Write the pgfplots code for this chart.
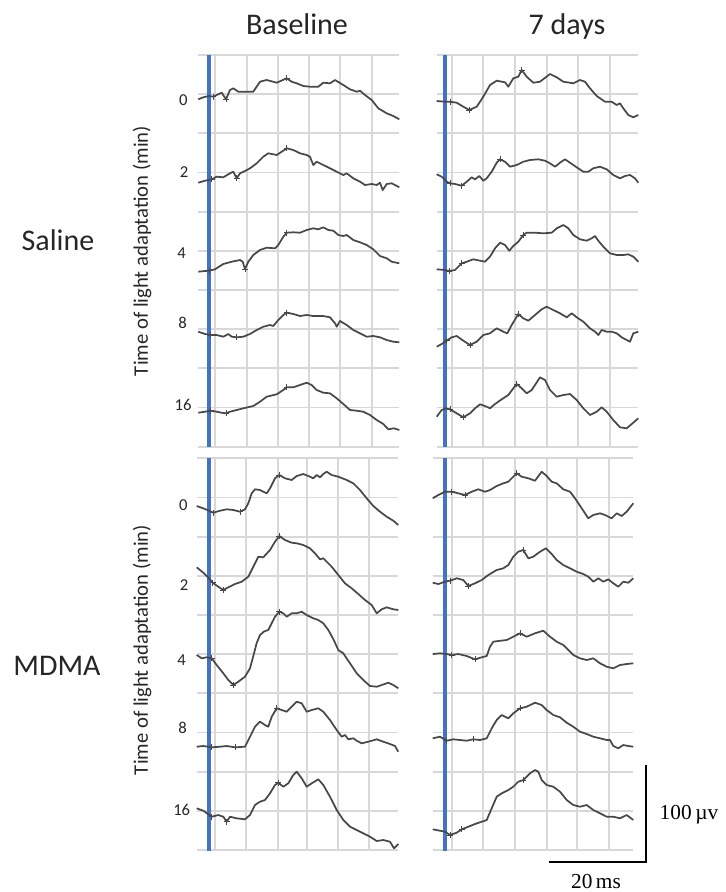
\documentclass[border=0pt]{standalone}
\usepackage{fontspec}
\setmainfont{Carlito}
\newfontfamily\scalefont{Liberation Serif}
\usepackage{pgfplots}
\pgfplotsset{compat=1.18}
\definecolor{gridc}{RGB}{216,216,216}
\definecolor{stim}{RGB}{68,114,196}
\definecolor{trc}{RGB}{72,72,72}
\pgfplotsset{
 panel/.style={scale only axis, y dir=reverse, anchor=south west,
   axis line style={draw=none}, tick style={draw=none},
   xtick=\empty, yticklabels={}, ymajorgrids, unbounded coords=jump,
   major grid style={draw=gridc, line width=1.4pt}, clip=false},
 gridv/.style={gridc, line width=1.5pt, forget plot},
 trace/.style={trc, line width=1.3pt, line join=round},
 stimline/.style={stim, line width=2.3pt},
 mk/.style={only marks, mark=+, mark size=2.2pt, mark options={trc, line width=0.6pt}},
}
\begin{document}
\begin{tikzpicture}
\path[use as bounding box] (0,0) rectangle (543.75pt,-669pt);

% ---------------- Saline, Baseline
\begin{axis}[panel, at={(148.725pt,-335.025pt)}, width=150.75pt, height=293.775pt,
  xmin=198.3, xmax=399.3, ymin=55, ymax=446.7,
  ytick={55,94.17,133.34,172.51,211.68,250.85,290.02,329.19,368.36,407.53,446.7}]
\addplot[gridv] coordinates {(215,55) (215,446.7) (215,nan) (246.7,55) (246.7,446.7) (246.7,nan) (278.3,55) (278.3,446.7) (278.3,nan) (309.3,55) (309.3,446.7) (309.3,nan) (340,55) (340,446.7) (340,nan) (371.7,55) (371.7,446.7)};
\addplot[stimline] coordinates {(209,55) (209,446.7)};
% 0 min
\addplot[trace] coordinates {(198.3,99.3) (203.3,97.3) (209,96) (213.3,96.7) (216.7,95) (221.7,92.7) (226,99.3) (230,90) (233.3,88.3) (238.3,91.7) (243.3,91.7) (253.3,91.7) (260,81.7) (266.7,80) (276.7,82.7) (286.7,78.3) (291.7,81.7) (296.7,83.3) (303.3,86) (310,86.7) (318.3,86.7) (323.3,82.7) (330,83.3) (335,80) (343.3,85) (350,89.3) (356.7,91.7) (360,90.7) (365,95) (371.7,100) (378.3,108.3) (386.7,113.3) (393.3,116) (399.3,119.3)};
\addplot[mk] coordinates {(213.3,96.7) (226,99.3) (286.7,78.3)};
% 2 min
\addplot[trace] coordinates {(198.3,182.7) (205,180.7) (211.7,179.3) (216.7,176.7) (223.3,177.3) (230,173.3) (233.3,171.7) (236.7,178.3) (240,173.3) (245,171) (250,168.3) (256.7,163.3) (263.3,156.7) (268.3,153.3) (276.7,155) (281.7,151.7) (286.7,148.3) (293.3,150) (300,153.3) (306.7,155) (310,156.7) (313.3,165) (316.7,161.7) (323.3,165) (330,168.3) (336.7,171.7) (343.3,175) (346.7,173.3) (353.3,178.3) (360,181.7) (365,185) (371.7,184) (376.7,185) (380,182.7) (382.7,190) (386.7,184) (391.7,183.3) (399.3,187.3)};
\addplot[mk] coordinates {(211.7,179.3) (236.7,178.3) (286.7,148.3)};
% 4 min
\addplot[trace] coordinates {(198.3,271.7) (205,271) (209,270.7) (215,269.3) (223.3,264) (231.7,261.7) (240,260) (242.7,261.7) (245,269) (248.3,261.7) (253.3,255) (260,250) (266.7,247.7) (275,248.3) (278.3,245) (283.3,236.7) (286.7,232.7) (293.3,232.3) (300,232.7) (306.7,230) (313.3,228.3) (318.3,229.3) (323.3,227.3) (328.3,230) (333.3,230.7) (338.3,235) (343.3,236) (346.7,235) (353.3,240) (360,242.3) (366.7,245) (373.3,249.3) (380,256) (386.7,258.3) (391.7,261.7) (399.3,263.3)};
\addplot[mk] coordinates {(209,270.7) (245,269) (286.7,232.7)};
% 8 min
\addplot[trace] coordinates {(198.3,331.7) (205,334) (210.7,335) (216.7,335) (223.3,336.7) (228.3,334) (231.7,336.7) (236.7,337.3) (243.3,336.7) (250,334) (256.7,330) (263.3,326.7) (270,325) (273.3,326) (278.3,320) (283.3,315) (286.7,312.7) (293.3,314) (300,316) (306.7,315) (313.3,316) (323.3,316) (330,317.3) (335,323.3) (336.7,326.7) (340,321) (346.7,325) (353.3,330) (360,333.3) (366.7,336.7) (373.3,336) (380,337.3) (386.7,340) (393.3,341.7) (399.3,342.3)};
\addplot[mk] coordinates {(210.7,335) (236.7,337.3) (286.7,312.7)};
% 16 min
\addplot[trace] coordinates {(198.3,412.7) (205,411.7) (210.7,410.7) (216.7,411.7) (221.7,412.7) (226,413.3) (230,411.7) (236.7,410) (243.3,408.3) (253.3,406) (260,401.7) (266.7,396.7) (276.7,394.3) (283.3,390) (286.7,387.3) (293.3,387.3) (300,385) (306.7,382.7) (311.7,385) (316.7,390) (323.3,392.7) (330,393.3) (336.7,398.3) (343.3,404) (350,410) (356.7,410.7) (363.3,411.7) (370,415) (376.7,420) (383.3,424) (388.3,429.3) (394,428.3) (399.3,430)};
\addplot[mk] coordinates {(210.7,410.7) (226,413.3) (286.7,387.3)};
\end{axis}

% ---------------- Saline, 7 days
\begin{axis}[panel, at={(327.525pt,-335.025pt)}, width=151.2pt, height=293.775pt,
  xmin=436.7, xmax=638.3, ymin=55, ymax=446.7,
  ytick={55,94.17,133.34,172.51,211.68,250.85,290.02,329.19,368.36,407.53,446.7}]
\addplot[gridv] coordinates {(451.7,55) (451.7,446.7) (451.7,nan) (483.3,55) (483.3,446.7) (483.3,nan) (515,55) (515,446.7) (515,nan) (546.7,55) (546.7,446.7) (546.7,nan) (578.3,55) (578.3,446.7) (578.3,nan) (610,55) (610,446.7)};
\addplot[stimline] coordinates {(445,55) (445,446.7)};
\addplot[trace] coordinates {(436.7,101) (445,101.7) (450,101.7) (456.7,102.7) (463.3,106.7) (469.3,110) (476.7,106.7) (483.3,96.7) (490,85) (496.7,80.7) (505,82.3) (508.3,86.7) (513.3,78.3) (518.3,76.7) (521.7,70) (526.7,76.7) (533.3,82.7) (540,81.7) (550,74) (556.7,77.3) (563.3,81.7) (573.3,83.3) (580,80) (585,81.7) (590,88.3) (596.7,96) (605,101.7) (611.7,101.7) (616.7,105) (620,103.3) (623.3,108.3) (628.3,115) (633.3,117.3) (638.3,115)};
\addplot[mk] coordinates {(450,101.7) (469.3,110) (521.7,70)};
\addplot[trace] coordinates {(436.7,174.3) (441.7,176.7) (446.7,181.7) (450,183.3) (455,184) (461.7,185.7) (466.7,181.7) (471.7,177.3) (475,179.3) (479.3,176) (483.3,180.7) (486.7,178.3) (491.7,171.7) (496.7,162.7) (500,159.3) (505,161.7) (510,166.7) (516.7,165) (523.3,161.7) (530,160) (538.3,159.3) (545,160.7) (550,163.3) (555,166.7) (560,162.7) (565,159.3) (570,162.7) (576.7,167.3) (583.3,171.7) (588.3,171.7) (593.3,168.3) (600,166.7) (606.7,169.3) (613.3,175) (620,178.3) (625,176) (630,175) (635,178.3) (638.3,182.7)};
\addplot[mk] coordinates {(450,183.3) (461.7,185.7) (500,159.3)};
\addplot[trace] coordinates {(436.7,269.3) (445,270) (449.3,271) (455,270) (458.3,266.7) (461.7,263.3) (466.7,261.7) (473.3,259.3) (480,260.7) (485,261.7) (490,256.7) (495,248.3) (500,242.7) (505,245) (509.3,250.7) (513.3,246) (518.3,241.7) (523.3,235) (526.7,232.7) (535,232.7) (543.3,233.3) (551.7,232.7) (556.7,228.3) (563.3,225) (568.3,228.3) (573.3,235) (580,239.3) (586.7,240.7) (591.7,238.3) (595,236) (598.3,240.7) (603.3,246.7) (610,253.3) (616.7,255) (623.3,255) (628.3,254.3) (633.3,256.7) (638.3,261.7)};
\addplot[mk] coordinates {(449.3,271) (461.7,263.3) (523.3,235)};
\addplot[trace] coordinates {(436.7,346.7) (441.7,344) (446.7,340.7) (451.7,337.3) (456.7,336) (463.3,340.7) (470,345) (476.7,341.7) (483.3,335) (490,333.3) (496.7,328.3) (503.3,331.7) (507.3,333.3) (511.7,325) (518.3,314) (523.3,318.3) (528.3,320.7) (535,315) (541.7,309.3) (546.7,306.7) (553.3,310) (560,313.3) (566.7,317.3) (571.7,313.3) (576.7,317.3) (583.3,321.7) (590,328.3) (595,331.7) (598.3,335) (601.7,330) (606.7,331.7) (611.7,331.7) (616.7,333.3) (621.7,337.3) (626.7,340) (630,341.7) (633.3,333.3) (638.3,331.7)};
\addplot[mk] coordinates {(446.7,340.7) (470,345) (518.3,314)};
\addplot[trace] coordinates {(436.7,416.7) (441.7,410) (446,408.3) (450,409.3) (456.7,413.3) (463.3,417.3) (470,413.3) (475,408.3) (480,404.3) (486.7,406.7) (490,408.3) (495,404) (501.7,399.3) (508.3,395) (513.3,388.3) (516.7,384) (521.7,388.3) (526.7,393.3) (531.7,390) (535,385) (540,377.3) (545,380) (550,390) (556.7,396.7) (563.3,395) (570,394) (576.7,400) (583.3,408.3) (590,415) (596.7,411.7) (601.7,407.3) (606.7,411.7) (613.3,420) (620,427.3) (626.7,428.3) (631.7,424) (638.3,418.3)};
\addplot[mk] coordinates {(450,409.3) (463.3,417.3) (516.7,384)};
\end{axis}

% ---------------- MDMA, Baseline
\begin{axis}[panel, at={(147.525pt,-637.5pt)}, width=151.2pt, height=293.775pt,
  xmin=196.7, xmax=398.3, ymin=458.3, ymax=850,
  ytick={458.3,497.47,536.64,575.81,614.98,654.15,693.32,732.49,771.66,810.83,850}]
\addplot[gridv] coordinates {(215,458.3) (215,850) (215,nan) (245.5,458.3) (245.5,850) (245.5,nan) (277.5,458.3) (277.5,850) (277.5,nan) (306.7,458.3) (306.7,850) (306.7,nan) (338.2,458.3) (338.2,850) (338.2,nan) (368.5,458.3) (368.5,850)};
\addplot[stimline] coordinates {(209,458.3) (209,851)};
\addplot[trace] coordinates {(196.7,506) (203.3,508.3) (209,510.7) (213.3,512.7) (220,510.7) (226.7,509.3) (233.3,510) (240,511.7) (245,509.3) (248.3,503.3) (251.7,493.3) (255,489.3) (260,490) (263.3,491.7) (266.7,493.3) (270,488.3) (275,478.3) (279.3,475) (285,478.3) (291.7,480) (296.7,476) (303.3,474) (310,476.7) (313.3,478.3) (316.7,475) (320,477.3) (323.3,474) (326.7,471.7) (331.7,475) (338.3,476.7) (346.7,480) (353.3,483.3) (360,490) (366.7,498.3) (373.3,506) (380,511.7) (386.7,516.7) (393.3,520.7) (398.3,525)};
\addplot[mk] coordinates {(213.3,512.7) (240,511.7) (279.3,475)};
\addplot[trace] coordinates {(196.7,567.3) (203.3,572.7) (209,578.3) (212.7,582.7) (218.3,586.7) (223.3,590) (228.3,587.3) (235,584) (241.7,581.7) (248.3,576.7) (253.3,566.7) (258.3,556.7) (263.3,557.3) (270,550) (275,541.7) (279.3,536) (285,540) (291.7,542.7) (296.7,543.3) (303.3,545) (310,548.3) (315,553.3) (320,559.3) (323.3,558.3) (326.7,561.7) (331.7,566.7) (338.3,575) (345,583.3) (351.7,588.3) (358.3,594) (365,600) (371.7,605) (376.7,613.3) (381.7,609.3) (386.7,607.3) (393.3,609.3) (398.3,610)};
\addplot[mk] coordinates {(212.7,582.7) (223.3,590) (279.3,536)};
\addplot[trace] coordinates {(196.7,655) (201.7,658.3) (206.7,657.3) (211.7,658.3) (216.7,665) (223.3,673.3) (228.3,680) (233.3,685) (238.3,681.7) (245,676.7) (250,668.3) (253.3,656) (256.7,643) (260,635) (264,631.5) (268.3,630) (275,616.7) (279.3,611.7) (283.3,613.3) (286.7,616.7) (291.7,613.3) (296.7,613.3) (301.7,611.7) (306.7,615) (313.3,618.3) (318.3,620) (323.3,623.3) (328.3,630) (333.3,639) (338.3,650) (343.3,653.3) (350,663.3) (356.7,673.3) (363.3,680) (370,686) (376.7,686.7) (381.7,685) (388.3,682.7) (393.3,685) (398.3,688.3)};
\addplot[mk] coordinates {(211.7,658.3) (233.3,685) (279.3,611.7)};
\addplot[trace] coordinates {(196.7,746.7) (203.3,746) (211.7,747.3) (220,746.7) (226.7,746) (235,747.3) (245,746.7) (250,736.7) (255,726.7) (260,721.7) (265,725) (268.3,726.7) (271.7,716.7) (276.7,708.3) (281.7,710) (286.7,711.7) (291.7,706.7) (296.7,701.7) (301.7,703.3) (306.7,711.7) (311.7,710) (318.3,708.3) (323.3,711.7) (330,720) (336.7,730) (341.7,736.7) (345,735) (348.3,739.3) (353.3,738.3) (356.7,740.7) (361.7,743.3) (368.3,741.7) (376.7,739.3) (383.3,741.7) (390,744) (395,746) (398.3,751.7)};
\addplot[mk] coordinates {(211.7,747.3) (235,747.3) (276.7,708.3)};
\addplot[trace] coordinates {(196.7,808.3) (203.3,810.7) (211.7,816.7) (218.3,815) (223.3,816.7) (226.7,821.7) (230,816.7) (236.7,818.3) (245,819.3) (250,815) (255,805) (260,801.7) (265,800) (270,793.3) (275,785) (278.3,782.7) (283.3,786.7) (288.3,783.3) (293.3,775) (296.7,771.7) (301.7,778.3) (306.7,786.7) (311.7,783.3) (318.3,779.3) (323.3,785) (330,796.7) (336.7,810) (343.3,820) (350,826.7) (356.7,830) (363.3,833.3) (370,836.7) (376.7,841) (383.3,840) (390,841.7) (394,848.3) (398.3,844)};
\addplot[mk] coordinates {(211.7,816.7) (226.7,821.7) (278.3,782.7)};
\end{axis}

% ---------------- MDMA, 7 days
\begin{axis}[panel, at={(324.525pt,-637.5pt)}, width=150.45pt, height=293.775pt,
  xmin=432.7, xmax=633.3, ymin=458.3, ymax=850,
  ytick={458.3,497.47,536.64,575.81,614.98,654.15,693.32,732.49,771.66,810.83,850}]
\addplot[gridv] coordinates {(451.7,458.3) (451.7,850) (451.7,nan) (483.3,458.3) (483.3,850) (483.3,nan) (515,458.3) (515,850) (515,nan) (546.5,458.3) (546.5,850) (546.5,nan) (577.3,458.3) (577.3,850) (577.3,nan) (608.8,458.3) (608.8,850)};
\addplot[stimline] coordinates {(445,458.3) (445,851)};
\addplot[trace] coordinates {(432.7,498.3) (438.3,495) (445,491.7) (451.7,491.7) (458.3,493.3) (465,495) (471.7,491.7) (478.3,489.3) (485,491.7) (490,490) (496.7,486) (503.3,483.3) (508.3,481.7) (513.3,476.7) (516.7,473.3) (521.7,476.7) (528.3,478.3) (535,480.7) (541.7,471.7) (546.7,476) (551.7,481.7) (556.7,483.3) (563.3,489.3) (570,491.7) (575,498.3) (581.7,508.3) (588.3,518.3) (593.3,515) (600,513.3) (605,515) (611.7,518.3) (616.7,513.3) (621.7,516) (626.7,511.7) (633.3,503.3)};
\addplot[mk] coordinates {(451.7,491.7) (465,495) (516.7,473.3)};
\addplot[trace] coordinates {(432.7,582.7) (438.3,584) (445,581.7) (450,580.7) (456.7,578.3) (463.3,580) (468.3,586) (475,583.3) (481.7,580) (488.3,575) (496.7,570) (503.3,568.3) (508.3,565) (513.3,556.7) (518.3,551.7) (523.3,550) (528.3,558.3) (533.3,556.7) (540,551.7) (546,548.3) (551.7,554) (556.7,560) (563.3,565) (570,568.3) (576.7,571.7) (583.3,574) (588.3,576.7) (593.3,581.7) (598.3,578.3) (603.3,581.7) (608.3,579.3) (613.3,583.3) (618.3,586.7) (623.3,581.7) (628.3,582.7) (633.3,578.3)};
\addplot[mk] coordinates {(450,580.7) (468.3,586) (523.3,550)};
\addplot[trace] coordinates {(432.7,654) (440,653.3) (446.7,654) (451.7,655) (458.3,654) (466.7,656) (475,659.3) (481.7,657.3) (486.7,656) (490,646.7) (493.3,641.7) (498.3,641) (506.7,640) (513.3,636.7) (520,633.3) (526.7,636.7) (535,633.3) (543.3,630.7) (550,636.7) (556.7,641.7) (563.3,645) (568.3,650) (573.3,655) (580,658.3) (586.7,660) (593.3,658.3) (600,663.3) (606.7,666.7) (613.3,668.3) (620,665) (626.7,664) (633.3,663.3)};
\addplot[mk] coordinates {(451.7,655) (475,659.3) (520,633.3)};
\addplot[trace] coordinates {(432.7,738.3) (440,736.7) (446.7,740.7) (453.3,739.3) (460,740) (466.7,740.7) (473.3,739.3) (480,740) (486.7,738.3) (491.7,728.3) (496.7,720) (501.7,715) (508.3,718.3) (513.3,713.3) (520,708.3) (526.7,706.7) (535,702.7) (541.7,705) (546.7,710) (553.3,715) (560,717.3) (566.7,722.7) (573.3,726.7) (580,731.7) (586.7,734) (593.3,736.7) (600,738.3) (606.7,740) (610,740) (613.3,746) (618.3,748.3) (623.3,745) (628.3,746) (633.3,746.7)};
\addplot[mk] coordinates {(446.7,740.7) (473.3,739.3) (520,708.3)};
\addplot[trace] coordinates {(432.7,829.3) (440,830.7) (445,831.7) (450,835) (456.7,832.7) (461.7,829.3) (468.3,826.7) (475,824) (481.7,821.7) (486.7,820) (491.7,808.3) (496.7,796.7) (501.7,793.3) (508.3,790) (513.3,786.7) (518.3,781.7) (523.3,780) (530,773.3) (535,770) (538.3,771.7) (541.7,780) (546.7,785) (553.3,786.7) (560,791.7) (566.7,800) (573.3,805) (580,806.7) (586.7,805) (593.3,810) (600,813.3) (606.7,816.7) (613.3,816.7) (620,818.3) (626.7,815) (633.3,820)};
\addplot[mk] coordinates {(450,835) (461.7,829.3) (523.3,780)};
\end{axis}

\begin{scope}[x=0.75pt, y=-0.75pt]
\node[anchor=base, font=\fontsize{22.5}{27}\selectfont, text=black!85] at (297,35) {Baseline};
\node[anchor=base, font=\fontsize{22.5}{27}\selectfont, text=black!85] at (567,35) {7 days};
\node[anchor=base, font=\fontsize{22.5}{27}\selectfont, text=black!85] at (58,250) {Saline};
\node[anchor=base, font=\fontsize{22.5}{27}\selectfont, text=black!85] at (57,675) {MDMA};
\node[rotate=90, font=\fontsize{15.5}{18}\selectfont, text=black!85] at (142,251) {Time of light adaptation (min)};
\node[rotate=90, font=\fontsize{15.5}{18}\selectfont, text=black!85] at (142,650) {Time of light adaptation (min)};
\begin{scope}[every node/.style={font=\fontsize{12.5}{15}\selectfont, text=black!85}]
\node at (183.3,100) {0};
\node at (184,171.7) {2};
\node at (181.7,253.3) {4};
\node at (182.5,323.3) {8};
\node at (183,405) {16};
\node at (183.3,505) {0};
\node at (184,585) {2};
\node at (181.7,660) {4};
\node at (182.5,728.3) {8};
\node at (181.7,810) {16};
\end{scope}
\draw[line width=1.5pt, line cap=rect] (550,861.7) -- (646,861.7) -- (646,766);
\node[anchor=west, font=\scalefont\fontsize{16}{19}\selectfont] at (655,815) {100\,µv};
\node[font=\scalefont\fontsize{16}{19}\selectfont] at (596,881) {20\,ms};
\end{scope}
\end{tikzpicture}
\end{document}
